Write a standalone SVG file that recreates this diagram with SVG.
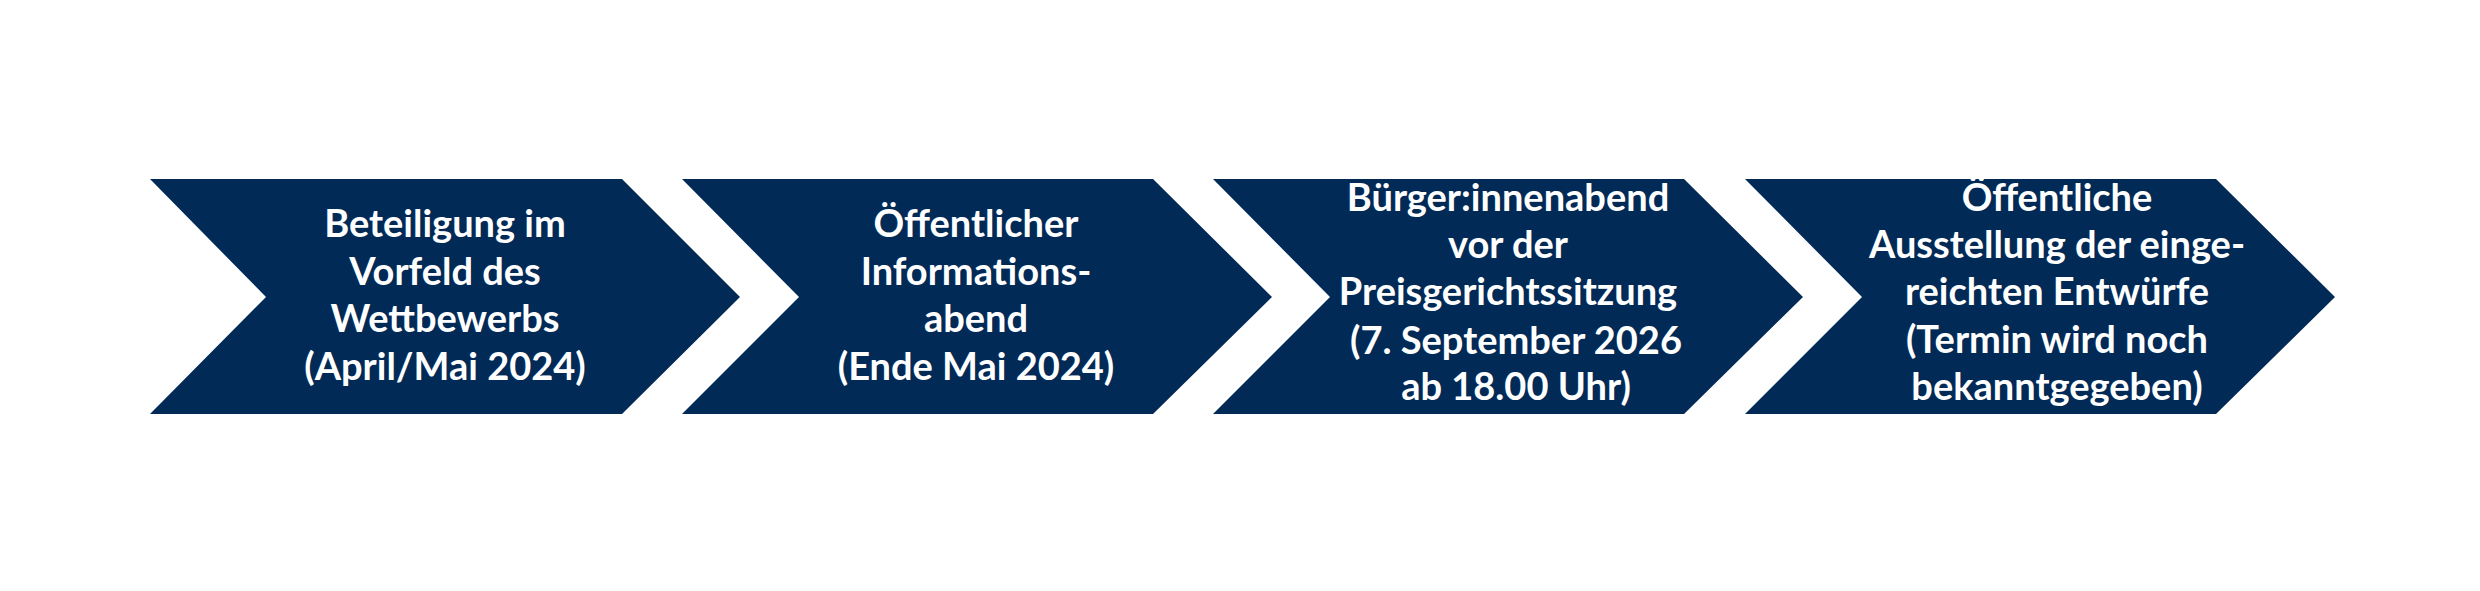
<svg xmlns="http://www.w3.org/2000/svg" width="2480" height="591" viewBox="0 0 2480 591">
<style>
.chev{fill:#022a57}
.t{font-family:Lato,"Open Sans","Liberation Sans",sans-serif;font-weight:700;font-size:38px;fill:#ffffff;text-anchor:middle}
</style>
<rect width="2480" height="591" fill="#ffffff"/>
<g id="connectors"/>
<g id="step1">
<polygon class="chev" points="150,179 622,179 740,297 622,414 150,414 266,297"/>
<text class="t" x="445" y="237">Beteiligung im</text>
<text class="t" x="445" y="285">Vorfeld des</text>
<text class="t" x="445" y="332">Wettbewerbs</text>
<text class="t" x="445" y="380">(April/Mai 2024)</text>
</g>
<g id="step2">
<polygon class="chev" points="682,179 1153,179 1272,297 1153,414 682,414 799,297"/>
<text class="t" x="976" y="237">Öffentlicher</text>
<text class="t" x="976" y="285">Informations-</text>
<text class="t" x="976" y="332">abend</text>
<text class="t" x="976" y="380">(Ende Mai 2024)</text>
</g>
<g id="step3">
<polygon class="chev" points="1213,179 1684,179 1803,297 1684,414 1213,414 1330,297"/>
<text class="t" x="1508" y="211">Bürger:innenabend</text>
<text class="t" x="1508" y="258">vor der</text>
<text class="t" x="1508" y="305">Preisgerichtssitzung</text>
<text class="t" x="1516" y="354">(7. September 2026</text>
<text class="t" x="1516" y="400">ab 18.00 Uhr)</text>
</g>
<g id="step4">
<polygon class="chev" points="1745,179 2216,179 2335,297 2216,414 1745,414 1862,297"/>
<text class="t" x="2057" y="211">Öffentliche</text>
<text class="t" x="2057" y="258">Ausstellung der einge-</text>
<text class="t" x="2057" y="305">reichten Entwürfe</text>
<text class="t" x="2057" y="353">(Termin wird noch</text>
<text class="t" x="2057" y="400">bekanntgegeben)</text>
</g>
</svg>
